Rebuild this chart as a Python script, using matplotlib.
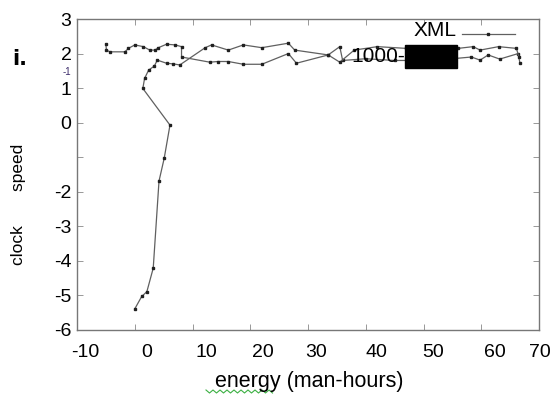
import numpy as np
import matplotlib
matplotlib.use('Agg')
from matplotlib import pyplot as plt
from matplotlib.patches import Rectangle
from matplotlib.lines import Line2D
from matplotlib.transforms import ScaledTranslation

plt.rcParams['font.family'] = ['Liberation Sans', 'DejaVu Sans']
plt.rcParams['axes.unicode_minus'] = False

# series
xml_x = [0.0, 1.2, 2.1, 3.2, 4.2, 5.1, 6.1, 1.4, 1.7, 2.4, 3.4, 3.9, 5.5, 6.7, 7.8,
         12.2, 13.3, 16.2, 18.8, 22.0, 26.6, 27.7, 33.5, 35.5, 36.0, 40.0, 45.0,
         50.0, 55.0, 58.3, 59.8, 61.2, 63.2, 66.4, 66.7]
xml_y = [-5.39, -5.03, -4.89, -4.21, -1.69, -1.03, -0.07, 0.99, 1.28, 1.52, 1.64, 1.81,
         1.72, 1.70, 1.67, 2.17, 2.25, 2.10, 2.25, 2.17, 2.30, 2.10, 1.96, 2.20, 1.80,
         1.85, 1.80, 1.80, 1.85, 1.90, 1.81, 1.96, 1.84, 2.00, 1.72]

k_x = [-5.0, -4.9, -4.3, -1.7, -1.1, 0.0, 1.5, 2.6, 3.5, 4.1, 5.5, 7.0, 8.1, 8.1,
       13.0, 14.4, 16.2, 18.8, 22.0, 26.6, 28.0, 33.5, 35.5, 38.0, 42.0, 47.0, 52.0,
       56.0, 58.6, 59.8, 63.0, 66.1, 66.5]
k_y = [2.27, 2.10, 2.05, 2.05, 2.15, 2.25, 2.20, 2.10, 2.10, 2.17, 2.27, 2.25, 2.20,
       1.90, 1.75, 1.77, 1.77, 1.69, 1.69, 2.00, 1.72, 1.96, 1.75, 2.10, 2.20, 2.15,
       2.20, 2.15, 2.20, 2.10, 2.20, 2.15, 1.90]

xticks = [-10, 0, 10, 20, 30, 40, 50, 60, 70]
yticks = [3, 2, 1, 0, -1, -2, -3, -4, -5, -6]
ylabels = ['3', '2', '1', '0', '', '-2', '-3', '-4', '-5', '-6']

W, H = 555, 394
fig = plt.figure(figsize=(W / 100, H / 100), dpi=100)
ax = fig.add_axes([77 / W, 1 - 330 / H, (539 - 77) / W, (330 - 19) / H])

style = dict(color='#606060', lw=0.9, marker='s', markersize=1.6,
             markerfacecolor='#202020', markeredgecolor='#202020')
ax.plot(xml_x, xml_y, **style)
ax.plot(k_x, k_y, **style)

ax.set_xlim(-10, 70)
ax.set_ylim(-6, 3)
ax.set_xticks(xticks)
ax.set_yticks(yticks)
ax.set_yticklabels(ylabels)
ax.tick_params(direction='in', length=4, width=0.6, color='#888888',
               top=True, right=True, labelsize=14)
ax.tick_params(axis='x', pad=10)
ax.tick_params(axis='y', pad=4)
for s in ax.spines.values():
    s.set_color('#777777')
    s.set_linewidth(1.0)

# x tick labels sit a little right of their ticks in the reference
shifts = [8, 12, 14, 13, 8, 11, 10, 14, 1]
for lab, dx in zip(ax.get_xticklabels(), shifts):
    lab.set_transform(lab.get_transform() + ScaledTranslation(dx / 100, 0, fig.dpi_scale_trans))

# stray small "-1" label
fig.text(67 / W, 1 - 72 / H, '-1', fontsize=7, color='#3a2a6a', ha='center', va='center')
# odd glyph on the left
fig.text(20 / W, 1 - 59 / H, 'i.', fontsize=15, fontweight='bold', ha='center', va='center',
         family='DejaVu Sans')

# axis labels
fig.text(19 / W, 1 - 204 / H, 'clock       speed', rotation=90, fontsize=12.5,
         ha='center', va='center')
fig.text(309 / W, 1 - 382 / H, 'energy (man-hours)', fontsize=15.5, ha='center', va='center')
# spell-check squiggle under "energy"
sx = np.arange(206, 276, 3.5)
sy = np.where(np.arange(len(sx)) % 2 == 0, 390, 393)
fig.add_artist(Line2D(sx / W, 1 - sy / H, color='#3cb043', lw=0.8))

# legend-like entries
fig.text(457 / W, 1 - 31 / H, 'XML', fontsize=15, ha='right', va='center')
fig.add_artist(Line2D([462 / W, 515 / W], [1 - 34 / H, 1 - 34 / H], color='#606060', lw=0.9))
fig.add_artist(Line2D([488 / W], [1 - 34 / H], marker='s', markersize=1.6, color='#202020'))
fig.text(405 / W, 1 - 57 / H, '1000-', fontsize=15, ha='right', va='center')
fig.add_artist(Rectangle((405 / W, 1 - 68 / H), 52 / W, 23 / H, transform=fig.transFigure,
                         facecolor='black', edgecolor='black'))

fig.savefig('out.png', dpi=100)
